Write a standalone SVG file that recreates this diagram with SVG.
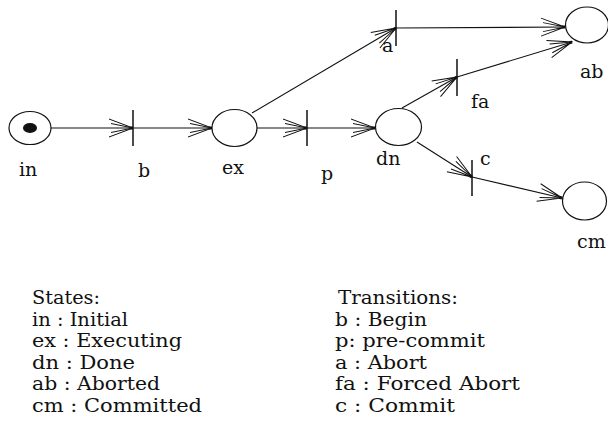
<svg xmlns="http://www.w3.org/2000/svg" width="608" height="430" viewBox="0 0 608 430">
<defs>
<style>
.st{fill:none;stroke:#111;stroke-width:1.2}
.tk{stroke:#111;stroke-width:1.5}
.ln{stroke:#111;stroke-width:1.1;fill:none}
text{font-family:"DejaVu Serif","Liberation Serif",serif;font-size:18px;fill:#111}
.lb{font-size:19px}
</style>
<marker id="ar" viewBox="-26 -10 28 20" refX="0" refY="0" markerWidth="28" markerHeight="20" markerUnits="userSpaceOnUse" orient="auto">
<path d="M-24,-9 L0,0 L-24,9 M-22,-4.5 L0,0 L-22,4.5" fill="none" stroke="#111" stroke-width="1"/>
<rect x="-3" y="-1.5" width="3" height="3" fill="#111"/>
</marker>
</defs>
<rect width="608" height="430" fill="#fff"/>
<g id="connectors">
<line class="ln" x1="51" y1="128" x2="133" y2="128" marker-end="url(#ar)"/>
<line class="ln" x1="133" y1="128" x2="212" y2="128" marker-end="url(#ar)"/>
<line class="ln" x1="257" y1="128" x2="307" y2="128" marker-end="url(#ar)"/>
<line class="ln" x1="307" y1="128" x2="375" y2="128" marker-end="url(#ar)"/>
<line class="ln" x1="252" y1="113" x2="396" y2="28" marker-end="url(#ar)"/>
<line class="ln" x1="396" y1="28" x2="565" y2="27" marker-end="url(#ar)"/>
<line class="ln" x1="402" y1="108" x2="457" y2="77" marker-end="url(#ar)"/>
<line class="ln" x1="457" y1="77" x2="572" y2="42" marker-end="url(#ar)"/>
<line class="ln" x1="417" y1="142" x2="472" y2="177" marker-end="url(#ar)"/>
<line class="ln" x1="472" y1="177" x2="562" y2="198" marker-end="url(#ar)"/>
</g>
<g id="in">
<ellipse class="st" cx="30" cy="128" rx="21" ry="16.5"/>
<ellipse cx="30" cy="128" rx="7" ry="5" fill="#111"/>
<text class="lb" x="19" y="176">in</text>
</g>
<g id="b">
<line class="tk" x1="133" y1="110" x2="133" y2="146"/>
<text class="lb" x="138" y="177">b</text>
</g>
<g id="ex">
<ellipse class="st" cx="234.5" cy="128" rx="22.5" ry="18.5"/>
<text class="lb" x="222" y="174">ex</text>
</g>
<g id="p">
<line class="tk" x1="307" y1="110" x2="307" y2="146"/>
<text class="lb" x="321" y="180">p</text>
</g>
<g id="dn">
<ellipse class="st" cx="398.5" cy="127" rx="23" ry="18.5"/>
<text class="lb" x="376" y="165">dn</text>
</g>
<g id="a">
<line class="tk" x1="396" y1="10" x2="396" y2="46"/>
<text class="lb" x="382" y="52">a</text>
</g>
<g id="fa">
<line class="tk" x1="457" y1="59" x2="457" y2="96"/>
<text class="lb" x="471" y="108">fa</text>
</g>
<g id="c">
<line class="tk" x1="472" y1="160" x2="472" y2="196"/>
<text class="lb" x="480" y="165">c</text>
</g>
<g id="ab">
<ellipse class="st" cx="587" cy="25" rx="21.5" ry="18"/>
<text class="lb" x="580" y="78">ab</text>
</g>
<g id="cm">
<ellipse class="st" cx="584.5" cy="201" rx="22" ry="19"/>
<text class="lb" x="577" y="248">cm</text>
</g>
<g id="legend-states">
<text x="32" y="304" textLength="68" lengthAdjust="spacingAndGlyphs">States:</text>
<text x="32" y="326" textLength="96" lengthAdjust="spacingAndGlyphs">in : Initial</text>
<text x="32" y="347" textLength="150" lengthAdjust="spacingAndGlyphs">ex : Executing</text>
<text x="32" y="369" textLength="103" lengthAdjust="spacingAndGlyphs">dn : Done</text>
<text x="32" y="390" textLength="128" lengthAdjust="spacingAndGlyphs">ab : Aborted</text>
<text x="32" y="412" textLength="170" lengthAdjust="spacingAndGlyphs">cm : Committed</text>
</g>
<g id="legend-transitions">
<text x="338" y="304" textLength="120" lengthAdjust="spacingAndGlyphs">Transitions:</text>
<text x="335" y="326" textLength="92" lengthAdjust="spacingAndGlyphs">b : Begin</text>
<text x="335" y="347" textLength="150" lengthAdjust="spacingAndGlyphs">p: pre-commit</text>
<text x="335" y="369" textLength="92" lengthAdjust="spacingAndGlyphs">a : Abort</text>
<text x="335" y="390" textLength="185" lengthAdjust="spacingAndGlyphs">fa : Forced Abort</text>
<text x="335" y="412" textLength="120" lengthAdjust="spacingAndGlyphs">c : Commit</text>
</g>
</svg>
